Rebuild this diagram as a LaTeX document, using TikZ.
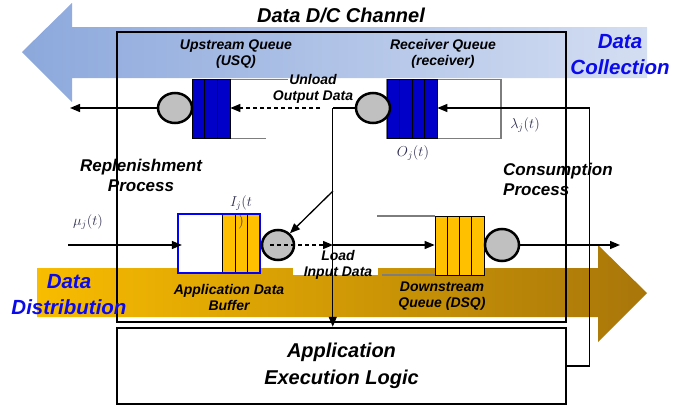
\documentclass[tikz,border=0pt]{standalone}
\usepackage{fontspec}
\setmainfont{Liberation Sans}
\usetikzlibrary{arrows.meta,shapes.geometric,calc}
\definecolor{qblue}{RGB}{0,0,200}
\definecolor{qorange}{RGB}{255,192,0}
\definecolor{sgray}{RGB}{192,192,192}
\definecolor{lblue}{RGB}{10,10,235}
\definecolor{mathc}{RGB}{45,45,80}
\definecolor{qgray}{RGB}{125,125,125}
\definecolor{bluL}{RGB}{140,168,220}
\definecolor{bluR}{RGB}{212,222,242}
\definecolor{orL}{RGB}{248,188,0}
\definecolor{orR}{RGB}{168,118,10}
\begin{document}
\begin{tikzpicture}[x=1pt,y=-1pt,
  conn/.style={line width=1.3pt,-{Triangle[length=10pt,width=8pt]}},
  dconn/.style={conn,dash pattern=on 4pt off 3pt},
  plain/.style={line width=1.3pt},
  qline/.style={draw=qgray,line width=1.1pt},
  cell/.style={line width=0.7pt},
  bq/.style={draw=black,line width=0.7pt,fill=qblue,minimum width=#1,minimum height=59pt,inner sep=0pt},
  oq/.style={draw=black,line width=0.7pt,fill=qorange,minimum width=#1,minimum height=59pt,inner sep=0pt},
  server/.style={ellipse,draw,line width=2.5pt,fill=sgray,minimum width=34pt,minimum height=30pt,inner sep=0pt},
  bigbox/.style={draw,line width=2.5pt,inner sep=0pt},
  lbl/.style={font=\fontsize{14}{16}\selectfont\bfseries\itshape,align=center,inner sep=0pt},
  proc/.style={font=\fontsize{17}{20}\selectfont\bfseries\itshape,align=center,inner sep=0pt},
  flow/.style={font=\fontsize{20.5}{26}\selectfont\bfseries\itshape,align=center,inner sep=0pt,text=lblue},
  mlbl/.style={font=\fontsize{14.5}{16}\selectfont,text=mathc,inner sep=0pt,align=center}
]
\useasboundingbox (0,0) rectangle (673,407);
% flow arrows
\shade[left color=bluL,right color=bluR] (22,52) -- (72,3) -- (72,27) -- (647,27) -- (647,78) -- (72,78) -- (72,102) -- cycle;
\shade[left color=orL,right color=orR] (37,268) -- (598,268) -- (598,245) -- (647,293) -- (598,342) -- (598,317) -- (37,317) -- cycle;
\fill[white] (293,262) rectangle (378,275);
% channel and application boxes
\node[bigbox,minimum width=449pt,minimum height=290pt] (ch) at (341.5,177) {};
\node[bigbox,minimum width=449pt,minimum height=76pt,font=\fontsize{20}{27}\selectfont\bfseries\itshape,align=center,fill=white] (app) at (341.5,366) {Application\\Execution Logic\hspace*{0pt}};
% USQ
\draw[qline] (230,79.5) -- (288,79.5);
\draw[qline] (230,138.5) -- (266,138.5);
\node[bq=38pt] (usq) at (211,109) {};
\foreach \x in {204.7,217.3} \draw[cell] (\x,79.5) -- (\x,138.5);
\node[server] (us) at (175,108) {};
% Receiver
\draw[qline] (387,79.5) rectangle (501,138.5);
\node[bq=50pt] (rq) at (412,109) {};
\foreach \x in {399.5,412,424.5} \draw[cell] (\x,79.5) -- (\x,138.5);
\node[server] (rs) at (373,108) {};
% DSQ
\draw[qline] (377,216) -- (435,216);
\draw[qline] (382,275) -- (435,275);
\node[oq=49pt] (dsq) at (459.5,245.5) {};
\foreach \x in {447.25,459.5,471.75} \draw[cell] (\x,216) -- (\x,275);
\node[server,minimum height=32pt] (ds) at (502,245) {};
% Application data buffer
\node[draw={rgb,255:red,0;green,0;blue,255},line width=2.2pt,fill=white,minimum width=82pt,minimum height=59pt,inner sep=0pt] (adb) at (219,243.5) {};
\fill[qorange] (222,214) rectangle (259,273);
\foreach \x in {222,235,247} \draw[cell] (\x,214) -- (\x,273);
\draw[draw={rgb,255:red,0;green,0;blue,255},line width=2.2pt] (178,214) rectangle (260,273);
\node[server,minimum width=32pt] (as) at (278,245) {};
% connectors
\coordinate (usout) at (70,108);
\coordinate (uo) at (320,108);
\coordinate (in) at (68,245);
\coordinate (out) at (620,245);
\coordinate (d1) at (333,191);
\coordinate (j2) at (333,245);
\draw[conn] (us.west) -- (usout);
\draw[dconn] (uo) -- (uo -| usq.east);
\draw[plain] (rs.west) -- ++(-22,0) coordinate (j1);
\draw[conn] (j1) -- (j1 |- app.north);
\draw[conn] (d1) -- (as);
\draw[dconn] ([xshift=-8pt]as.center) -- (j2);
\draw[conn] (j2) -- (j2 -| dsq.west);
\draw[conn] (in) -- ([xshift=5pt]in -| adb.west);
\draw[conn] (ds.east) -- (out);
\draw[conn] (app.east) -- ++(22,0) |- (rq.east |- rs);
% labels
\node[font=\fontsize{20}{24}\selectfont\bfseries\itshape,inner sep=0pt] (title) at (341,15) {Data D/C Channel};
\node[lbl] (usqlbl) at (236,54) {Upstream Queue\\(USQ)};
\node[lbl] (rqlbl) at (443,54) {Receiver Queue\\(receiver)};
\node[lbl] (unl) at (313,89) {Unload\\Output Data};
\node[proc] (rep) at (141,175) {Replenishment\\Process};
\node[proc,align=left,anchor=west] (cons) at (503,179.5) {Consumption\\Process};
\node[flow] (dc) at (620,55) {Data\\Collection};
\node[flow] (dd) at (69,294.5) {Data\\Distribution};
\node[lbl] (adbl) at (229,297.5) {Application Data\\Buffer};
\node[lbl] (load) at (338,265) {Load\\Input Data};
\node[lbl] (dsql) at (442,296.5) {Downstream\\Queue (DSQ)};
\node[mlbl] (mu) at (88,222) {$\mu_j(t)$};
\node[mlbl] (lam) at (525,125) {$\lambda_j(t)$};
\node[mlbl] (oj) at (413,153) {$O_j(t)$};
\node[mlbl,font=\fontsize{14.5}{19}\selectfont] (ij) at (241,212) {$I_j(t$\\$)$};
\end{tikzpicture}
\end{document}
